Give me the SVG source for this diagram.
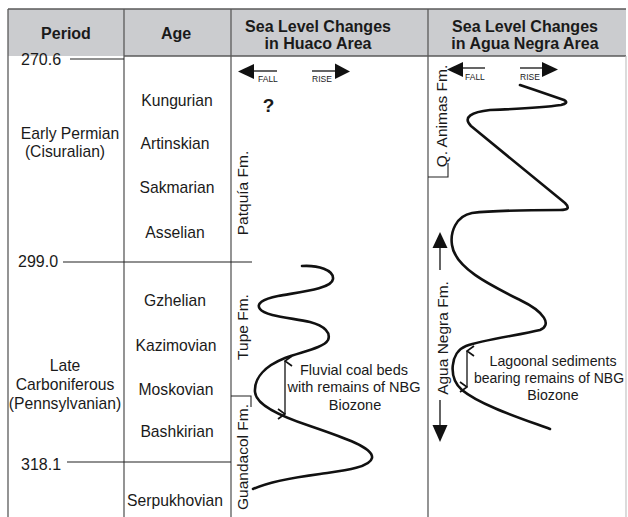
<svg xmlns="http://www.w3.org/2000/svg" width="628" height="517" viewBox="0 0 628 517">
<style>
text{font-family:"Liberation Sans",Arial,sans-serif;fill:#1a1a1a}
.hd{font-size:16px;font-weight:bold;text-anchor:middle}
.age{font-size:15.7px;text-anchor:middle}
.per{font-size:15.7px;text-anchor:middle}
.num{font-size:16px}
.fm{font-size:15.5px;text-anchor:middle}
.sm{font-size:8.5px}
.note{font-size:14.5px;text-anchor:middle}
.grid{stroke:#5a5a5a;stroke-width:1.3;fill:none}
.bd{stroke:#222;stroke-width:1.1;fill:none}
.curve{stroke:#111;stroke-width:2.6;fill:none;stroke-linecap:round;stroke-linejoin:round}
.shaft{stroke:#111;stroke-width:1.3;fill:none}
.head{fill:#111}
</style>
<defs>
<marker id="chev" viewBox="0 0 12 10" refX="6" refY="1" markerWidth="12" markerHeight="10" markerUnits="userSpaceOnUse" orient="auto-start-reverse">
<path d="M1,8 L6,1 L11,8" fill="none" stroke="#111" stroke-width="1.7"/>
</marker>
</defs>
<rect width="628" height="517" fill="#fff"/>
<g id="header">
<rect x="8" y="9" width="618" height="47" fill="#cbcccf"/>
<line class="grid" x1="8" y1="9" x2="626" y2="9"/>
<line class="grid" x1="124" y1="56" x2="626" y2="56"/>
<text class="hd" x="66" y="39">Period</text>
<text class="hd" x="176" y="39">Age</text>
<text class="hd" x="318" y="32">Sea Level Changes</text>
<text class="hd" x="318" y="49">in Huaco Area</text>
<text class="hd" x="525" y="32">Sea Level Changes</text>
<text class="hd" x="525" y="49">in Agua Negra Area</text>
</g>
<g id="grid">
<line class="grid" x1="8" y1="9" x2="8" y2="517"/>
<line class="grid" x1="124" y1="9" x2="124" y2="517"/>
<line class="grid" x1="231" y1="9" x2="231" y2="517"/>
<line class="grid" x1="428" y1="9" x2="428" y2="517"/>
<line x1="626" y1="56" x2="626" y2="517" stroke="#c4c4c4" stroke-width="1.2"/>
</g>
<g id="boundaries">
<text class="num" x="21" y="65">270.6</text>
<line class="bd" x1="70" y1="59" x2="124" y2="59"/>
<text class="num" x="18" y="267">299.0</text>
<line class="bd" x1="63" y1="262" x2="252" y2="262"/>
<text class="num" x="21" y="470">318.1</text>
<line class="bd" x1="67" y1="462" x2="231" y2="462"/>
</g>
<g id="periods">
<text class="per" x="70" y="139">Early Permian</text>
<text class="per" x="65" y="157">(Cisuralian)</text>
<text class="per" x="65" y="371">Late</text>
<text class="per" x="65" y="390">Carboniferous</text>
<text class="per" x="65" y="409">(Pennsylvanian)</text>
</g>
<g id="ages">
<text class="age" x="177" y="106">Kungurian</text>
<text class="age" x="175" y="149">Artinskian</text>
<text class="age" x="177" y="193">Sakmarian</text>
<text class="age" x="175" y="238">Asselian</text>
<text class="age" x="175" y="306">Gzhelian</text>
<text class="age" x="176" y="351">Kazimovian</text>
<text class="age" x="176" y="395">Moskovian</text>
<text class="age" x="177" y="437">Bashkirian</text>
<text class="age" x="175" y="506">Serpukhovian</text>
</g>
<g id="huaco-formations">
<text class="fm" transform="translate(248,193) rotate(-90)">Patquía Fm.</text>
<text class="fm" transform="translate(248,327) rotate(-90)">Tupe Fm.</text>
<text class="fm" transform="translate(248,457) rotate(-90)">Guandacol Fm.</text>
<polyline class="bd" points="231,396 251,396 251,407"/>
</g>
<g id="agua-formations">
<text class="fm" transform="translate(447,116) rotate(-90)">Q. Animas Fm.</text>
<text class="fm" transform="translate(448,338) rotate(-90)">Agua Negra Fm.</text>
<polyline class="bd" points="428,177 448,177 448,163"/>
</g>
<g id="huaco-scale">
<line class="shaft" x1="251" y1="71" x2="277" y2="71"/>
<polygon class="head" points="238,71.5 254,64 254,79"/>
<text class="sm" x="258" y="82">FALL</text>
<line class="shaft" x1="312" y1="71" x2="337" y2="71"/>
<polygon class="head" points="335,63.5 335,79 350,71.5"/>
<text class="sm" x="312" y="82">RISE</text>
<text x="268.5" y="112" font-size="19" font-weight="bold" text-anchor="middle">?</text>
</g>
<g id="agua-scale">
<line class="shaft" x1="461" y1="68" x2="485" y2="68"/>
<polygon class="head" points="447,69.5 463,62 463,77"/>
<text class="sm" x="465" y="80">FALL</text>
<line class="shaft" x1="520" y1="68" x2="544" y2="68"/>
<polygon class="head" points="542,62 542,77 558,69.5"/>
<text class="sm" x="520" y="80">RISE</text>
</g>
<g id="huaco-curve">
<path class="curve" d="M302,266 C318,265 334,270 333,279 C332,289 300,292 278,296 C262,299 256,304 260,309 C265,316 292,318 310,322 C325,326 331,333 328,340 C324,348 300,352 285,358 C265,366 254,378 255,392 C256,405 280,416 310,426 C345,438 374,448 372,458 C370,468 340,471 320,474 C290,478 268,482 253,489"/>
</g>
<g id="agua-curve">
<path class="curve" d="M520,85 C535,90 552,96 564,100 C568,102 566,104 561,105 C540,108 515,109 490,110 C472,112 462,117 471,126 L565,203 C570,208 568,210 560,210 C525,210 488,211 472,213 C456,216 450,232 452,245 C455,268 490,285 520,300 C545,312 552,325 540,330 C520,335 482,340 466,346 C450,352 448,378 462,390 C480,405 520,418 550,429"/>
</g>
<g id="huaco-note">
<text class="note" x="354" y="375">Fluvial coal beds</text>
<text class="note" x="354" y="392">with remains of NBG</text>
<text class="note" x="355" y="410">Biozone</text>
</g>
<g id="agua-note">
<text class="note" x="553" y="366" style="font-size:14.2px">Lagoonal sediments</text>
<text class="note" x="549" y="383" style="font-size:14px">bearing remains of NBG</text>
<text class="note" x="553" y="400" style="font-size:14.2px">Biozone</text>
</g>
<g id="connectors">
<line class="shaft" x1="285" y1="361" x2="285" y2="414" marker-start="url(#chev)" marker-end="url(#chev)"/>
<line class="shaft" x1="467" y1="351" x2="467" y2="387" marker-start="url(#chev)" marker-end="url(#chev)"/>
<line class="shaft" x1="440" y1="245" x2="440" y2="270"/>
<polygon class="head" points="440,232 432.5,248 447.5,248"/>
<line class="shaft" x1="440" y1="400" x2="440" y2="427"/>
<polygon class="head" points="432.5,425 447.5,425 440,442"/>
</g>
</svg>
